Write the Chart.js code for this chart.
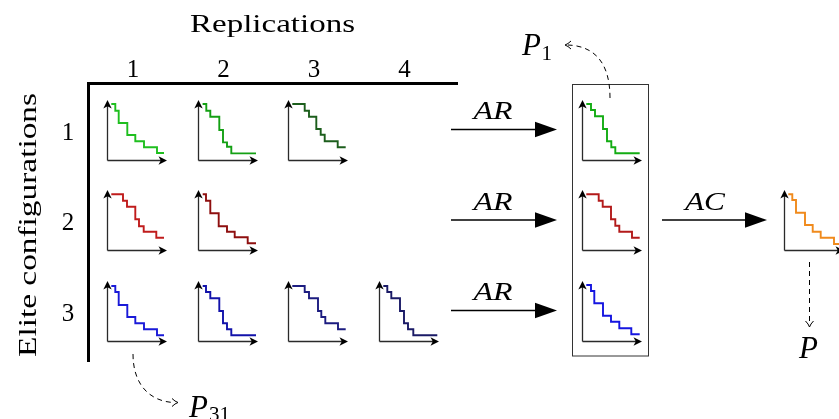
<!DOCTYPE html>
<html><head><meta charset="utf-8">
<script src="https://cdn.jsdelivr.net/npm/chart.js@4.4.1/dist/chart.umd.min.js"></script>
<style>
html,body{margin:0;padding:0;background:#fff;overflow:hidden;}
#stage{position:relative;width:839px;height:419px;overflow:hidden;background:#fff;}
#stage canvas{position:absolute;}
#overlay{position:absolute;left:0;top:0;pointer-events:none;}
</style></head><body>
<div id="stage"><svg id="overlay" width="839" height="419" xmlns="http://www.w3.org/2000/svg"></svg></div>
<script>
// ---------- categories / labels ----------
const replications = ['1', '2', '3', '4'];
const eliteConfigs = ['1', '2', '3'];
const axisTitleTop = 'Replications';
const axisTitleLeft = 'Elite configurations';
const aggLabel = 'AR';
const combLabel = 'AC';

// ---------- step curves (x, y), axis length = 60 ----------
// elite configuration 1
const e1r1X = [4.3, 8.3, 11.7, 20.3, 28.3, 37, 50, 57];
const e1r1Y = [56, 49.3, 37, 25, 18.7, 12.7, 7, 7];
const e1r2X = [4.6, 8.3, 12.3, 21.3, 25, 29, 33.3, 58];
const e1r2Y = [56, 49.3, 43.3, 30, 17.6, 13.3, 6.6, 6.6];
const e1r3X = [4.3, 16.7, 21, 28.3, 32.7, 36.7, 49.7, 57.7];
const e1r3Y = [56, 49.3, 43.3, 31, 25.3, 18.7, 12.7, 12.7];
// elite configuration 2
const e2r1X = [4.3, 16, 20, 28.3, 32, 36.7, 49.3, 57];
const e2r1Y = [55.7, 49.3, 43.3, 30.7, 23.7, 18.3, 12.3, 12.3];
const e2r2X = [4.7, 8, 12.3, 20.7, 29, 36.7, 49.7, 58];
const e2r2Y = [55.7, 49.3, 36.7, 23.7, 18.3, 12.7, 6.7, 6.7];
// elite configuration 3
const e3r1X = [4.3, 8.3, 11.7, 20.3, 28.3, 37, 50, 57];
const e3r1Y = [55, 49, 36, 24, 17.7, 11.7, 5.7, 5.7];
const e3r2X = [4.7, 8, 12.3, 21.3, 25, 29, 33.3, 58];
const e3r2Y = [55, 49, 42.7, 30, 17.7, 11.7, 5.7, 5.7];
const e3r3X = [4.3, 16.7, 21, 30, 33.3, 37.3, 50, 57.7];
const e3r3Y = [55, 49, 42.7, 30, 24, 17.7, 11.7, 11.7];
const e3r4X = [4.3, 8.3, 12.3, 21, 25, 29, 34.3, 58.3];
const e3r4Y = [55, 49, 42.7, 30, 17.7, 11.7, 5.7, 5.7];
// aggregated over replications (AR)
const agg1X = [4.3, 9, 13, 21, 25, 29.3, 33.3, 57.7];
const agg1Y = [56, 50, 43.7, 31, 18.7, 12.7, 6.7, 6.7];
const agg2X = [4.3, 16.7, 20.7, 29, 33.3, 37.3, 50, 57.7];
const agg2Y = [55.7, 49.3, 43.3, 30.7, 24.3, 18.3, 12.3, 12.3];
const agg3X = [4.3, 9, 12.3, 21, 29, 37.3, 49.3, 57.7];
const agg3Y = [56, 50, 37.7, 25.3, 19.3, 12.7, 6.7, 6.7];
// aggregated over configurations (AC)
const finalX = [4.3, 8.3, 12, 21, 28.7, 36.7, 50, 57.7];
const finalY = [55.7, 50, 37.3, 25, 18.3, 12.3, 6, 6];

const AXIS_LEN = 60;

// ---------- layout ----------
const colX = [107, 197.5, 288, 378.5];
const rowY = [159.5, 250, 340.5];
const aggColX = 582;
const finalColX = 784;

const stage = document.getElementById('stage');

const axesPlugin = {
  id: 'miniAxes',
  beforeDatasetsDraw(chart) {
    const { ctx, scales: { x, y } } = chart;
    const ox = Math.round(x.getPixelForValue(0)) + 0.5;
    const oy = Math.round(y.getPixelForValue(0)) + 0.5;
    const tx = x.getPixelForValue(AXIS_LEN);
    const ty = y.getPixelForValue(AXIS_LEN);
    ctx.save();
    ctx.strokeStyle = '#2a2a2a';
    ctx.lineWidth = 1.3;
    ctx.beginPath();
    ctx.moveTo(ox, oy); ctx.lineTo(ox, ty + 5);
    ctx.moveTo(ox, oy); ctx.lineTo(tx - 5, oy);
    ctx.stroke();
    ctx.fillStyle = '#000';
    ctx.beginPath();
    ctx.moveTo(ox, ty); ctx.lineTo(ox - 4.2, ty + 8.5); ctx.lineTo(ox, ty + 6.2); ctx.lineTo(ox + 4.2, ty + 8.5); ctx.closePath(); ctx.fill();
    ctx.beginPath();
    ctx.moveTo(tx, oy); ctx.lineTo(tx - 8.5, oy - 4.2); ctx.lineTo(tx - 6.2, oy); ctx.lineTo(tx - 8.5, oy + 4.2); ctx.closePath(); ctx.fill();
    ctx.restore();
  }
};

function stepPlot(x0, y0, xs, ys, color) {
  const size = 76, pad = 5;
  const c = document.createElement('canvas');
  c.width = size; c.height = size;
  c.style.width = size + 'px'; c.style.height = size + 'px';
  c.style.left = (Math.round(x0) - pad) + 'px';
  c.style.top = (Math.round(y0) - (size - pad)) + 'px';
  stage.insertBefore(c, document.getElementById('overlay'));
  new Chart(c, {
    type: 'line',
    data: { datasets: [{ data: xs.map((v, i) => ({ x: v, y: ys[i] })), stepped: true, borderColor: color, borderWidth: 1.9, pointRadius: 0, fill: false, tension: 0 }] },
    options: {
      responsive: false, animation: false, devicePixelRatio: 1, events: [],
      layout: { padding: 0 },
      scales: {
        x: { type: 'linear', min: -pad, max: size - pad, display: false },
        y: { type: 'linear', min: -pad, max: size - pad, display: false }
      },
      plugins: { legend: { display: false }, tooltip: { enabled: false } }
    },
    plugins: [axesPlugin]
  });
}

const grid = [
  [[e1r1X, e1r1Y, '#1fbf1f'], [e1r2X, e1r2Y, '#14a014'], [e1r3X, e1r3Y, '#1c5e1c'], null],
  [[e2r1X, e2r1Y, '#c01c1c'], [e2r2X, e2r2Y, '#8e0f0f'], null, null],
  [[e3r1X, e3r1Y, '#1a1ad8'], [e3r2X, e3r2Y, '#1212aa'], [e3r3X, e3r3Y, '#1c1c80'], [e3r4X, e3r4Y, '#1a1a66']]
];
grid.forEach((row, ri) => row.forEach((p, ci) => { if (p) stepPlot(colX[ci], rowY[ri], p[0], p[1], p[2]); }));
const aggs = [[agg1X, agg1Y, '#13ac13'], [agg2X, agg2Y, '#b31a1a'], [agg3X, agg3Y, '#1515e0']];
aggs.forEach((p, ri) => stepPlot(aggColX, rowY[ri] + (ri === 2 ? 0.5 : 0), p[0], p[1], p[2]));
stepPlot(finalColX, rowY[1], finalX, finalY, '#f08a1c');

// ---------- diagram furniture (SVG) ----------
const F = "font-family=\"'Liberation Serif', 'DejaVu Serif', serif\"";
let s = '';
s += `<text x="272.5" y="31.5" ${F} font-size="26" text-anchor="middle" textLength="165" lengthAdjust="spacingAndGlyphs">${axisTitleTop}</text>`;
replications.forEach((r, i) => { s += `<text x="${colX[i] + 26}" y="77" ${F} font-size="25" text-anchor="middle">${r}</text>`; });
eliteConfigs.forEach((r, i) => { s += `<text x="68" y="${rowY[i] - 20}" ${F} font-size="25" text-anchor="middle">${r}</text>`; });
s += `<text transform="translate(36,225) rotate(-90)" ${F} font-size="26" text-anchor="middle" textLength="264" lengthAdjust="spacingAndGlyphs">${axisTitleLeft}</text>`;
s += `<line x1="87" y1="83.5" x2="458" y2="83.5" stroke="#000" stroke-width="3"/>`;
s += `<line x1="88.5" y1="82" x2="88.5" y2="362" stroke="#000" stroke-width="3"/>`;
// AR arrows
rowY.forEach((y0, i) => {
  const y = y0 - 30;
  s += `<line x1="451" y1="${y}" x2="540" y2="${y}" stroke="#000" stroke-width="1.3"/>`;
  s += `<path d="M557,${y} L535,${y - 7.8} L535,${y + 7.8} Z" fill="#000"/>`;
  s += `<text x="493" y="${y - 10.5}" ${F} font-style="italic" font-size="25" text-anchor="middle" textLength="39" lengthAdjust="spacingAndGlyphs">${aggLabel}</text>`;
});
// AC arrow
{
  const y = rowY[1] - 30;
  s += `<line x1="662" y1="${y}" x2="750" y2="${y}" stroke="#000" stroke-width="1.3"/>`;
  s += `<path d="M767,${y} L745,${y - 7.8} L745,${y + 7.8} Z" fill="#000"/>`;
  s += `<text x="705" y="${y - 10.5}" ${F} font-style="italic" font-size="25" text-anchor="middle" textLength="40" lengthAdjust="spacingAndGlyphs">${combLabel}</text>`;
}
// box around aggregated plots
s += `<rect x="572.5" y="84.5" width="76" height="271.5" fill="none" stroke="#333" stroke-width="1"/>`;
// dashed arrows
s += `<path d="M610,98 C610,62 594,46 568,45" fill="none" stroke="#000" stroke-width="1" stroke-dasharray="5,4"/>`;
s += `<path d="M571,41 Q568,44 565,45 Q568,46 571,49" fill="none" stroke="#000" stroke-width="1"/>`;
s += `<path d="M133,354 C133,385 150,401 173,402.5" fill="none" stroke="#000" stroke-width="1" stroke-dasharray="5,4"/>`;
s += `<path d="M172,398.5 Q175,401.5 178,402.5 Q175,403.5 172,406.5" fill="none" stroke="#000" stroke-width="1"/>`;
s += `<path d="M809.5,262 L809.5,324" fill="none" stroke="#000" stroke-width="1" stroke-dasharray="5,4"/>`;
s += `<path d="M805.5,321 Q808.5,324 809.5,327 Q810.5,324 813.5,321" fill="none" stroke="#000" stroke-width="1"/>`;
// P labels
s += `<text x="522" y="55" ${F} font-style="italic" font-size="31">P</text><text x="541.5" y="59.5" ${F} font-size="21">1</text>`;
s += `<text x="189" y="417" ${F} font-style="italic" font-size="31">P</text><text x="209" y="421" ${F} font-size="21">31</text>`;
s += `<text x="799" y="358" ${F} font-style="italic" font-size="31">P</text>`;
document.getElementById('overlay').innerHTML = s;
</script>
</body></html>
